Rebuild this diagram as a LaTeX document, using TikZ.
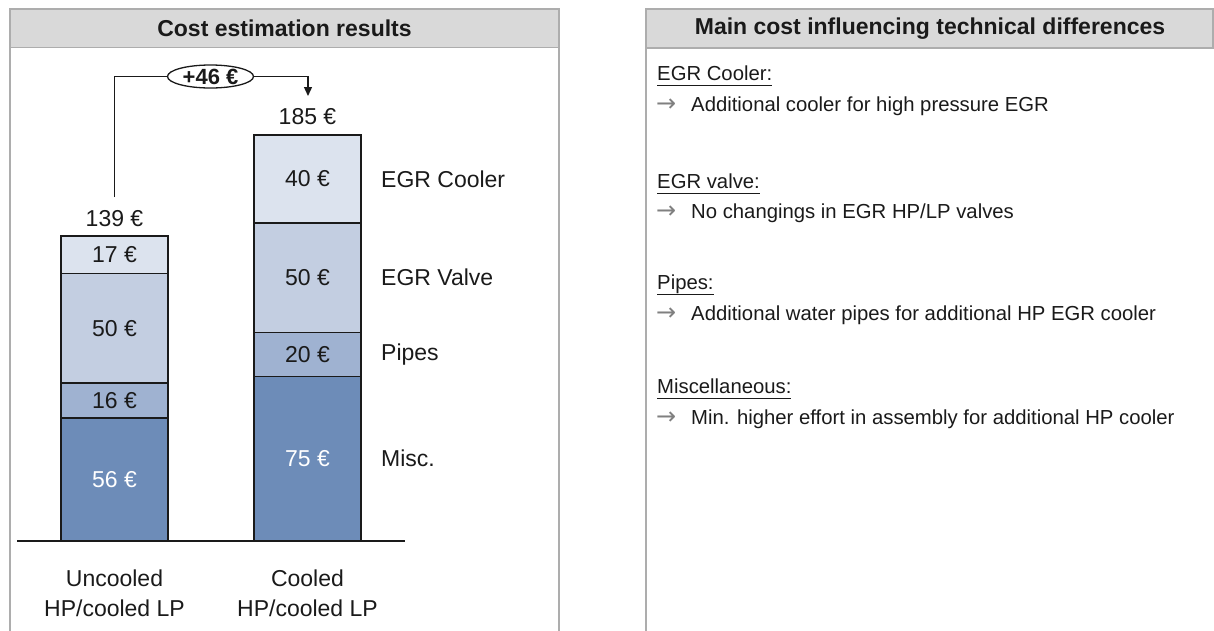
\documentclass[tikz,border=0pt]{standalone}
\usepackage{fontspec}
\setmainfont{Liberation Sans}
\newfontfamily\symfont{DejaVu Sans}
\usetikzlibrary{shapes.geometric,arrows.meta,calc}

\definecolor{hdrfill}{HTML}{D9D9D9}
\definecolor{hdrline}{HTML}{ADADAD}
\definecolor{segA}{HTML}{6D8CB8}
\definecolor{segB}{HTML}{9FB2D1}
\definecolor{segC}{HTML}{C3CEE1}
\definecolor{segD}{HTML}{DCE3EE}
\definecolor{ink}{HTML}{1A1A1A}
\definecolor{bulletgray}{HTML}{808080}

\newcommand\bigtxt{\fontsize{23}{30}\selectfont}
\newcommand\midtxt{\fontsize{20.3}{24}\selectfont}
\newcommand\hdrtxt{\fontsize{23}{28}\selectfont\bfseries}
\newcommand\ulhead[1]{\underline{#1\vphantom{p}}}

\tikzset{
  panelline/.style={draw=hdrline, line width=1.5pt},
  panelhead/.style={panelline, fill=hdrfill},
  headtext/.style={font=\hdrtxt, text=ink, inner sep=0pt},
  seg/.style={draw=ink, line width=1.3pt, minimum width=107pt, inner sep=0pt,
              font=\bigtxt, text=ink},
  valtext/.style={font=\bigtxt, text=ink, inner sep=0pt},
  partlabel/.style={font=\bigtxt, text=ink, anchor=west, inner sep=0pt},
  catlabel/.style={font=\bigtxt, text=ink, align=center, inner sep=0pt},
  delta/.style={ellipse, draw=ink, line width=1.3pt, minimum width=86pt,
                minimum height=23pt, inner sep=0pt, font=\fontsize{22}{24}\selectfont\bfseries, text=ink},
  link/.style={draw=ink, line width=1.3pt},
  notehead/.style={font=\midtxt, text=ink, anchor=base west, inner sep=0pt},
  notearrow/.style={font=\fontsize{24}{26}\symfont, text=bulletgray, anchor=base west, inner sep=0pt},
  notetext/.style={font=\midtxt, text=ink, anchor=base west, inner sep=0pt}
}

\begin{document}
\begin{tikzpicture}[x=1pt, y=-1pt]
  \useasboundingbox (0,0) rectangle (1214,630);

  % ---- left panel: cost estimation results ----
  \draw[panelhead] (10,9) rectangle (559,47.5);
  \draw[panelline] (10,47.5) -- (10,640);
  \draw[panelline] (559,47.5) -- (559,640);
  \node[headtext] (lhead) at (284.5,28.5) {Cost estimation results};

  % ---- right panel: technical differences ----
  \draw[panelhead] (646,9) rectangle (1213,48);
  \draw[panelline] (646,48) -- (646,640);
  \node[headtext] (rhead) at (930,28.5) {Main cost influencing technical differences};

  % stacked bar: uncooled HP / cooled LP (139 EUR)
  \node[seg, fill=segA, minimum height=122.88pt, text=white] (l56) at (114.5,479.56) {56 €};
  \node[seg, fill=segB, minimum height=35.11pt]  (l16) at (114.5,400.57) {16 €};
  \node[seg, fill=segC, minimum height=109.71pt] (l50) at (114.5,328.16) {50 €};
  \node[seg, fill=segD, minimum height=37.30pt]  (l17) at (114.5,254.65) {17 €};

  % stacked bar: cooled HP / cooled LP (185 EUR)
  \node[seg, fill=segA, minimum height=164.57pt, text=white] (r75) at (307.5,458.72) {75 €};
  \node[seg, fill=segB, minimum height=43.88pt]  (r20) at (307.5,354.49) {20 €};
  \node[seg, fill=segC, minimum height=109.71pt] (r50) at (307.5,277.70) {50 €};
  \node[seg, fill=segD, minimum height=87.77pt]  (r40) at (307.5,178.96) {40 €};

  % component names beside the second bar
  \node[partlabel] (pcool) at (381,178.96) {EGR Cooler};
  \node[partlabel] (pvalve) at (381,277.70) {EGR Valve};
  \node[partlabel] (ppipe) at (381,354.49) {Pipes};
  \node[partlabel] (pmisc) at (381,458.72) {Misc.};

  % totals
  \node[valtext] (t139) at (114.5,219) {139 €};
  \node[valtext] (t185) at (307.5,117) {185 €};

  % axis line
  \coordinate (ax0) at (17,541);
  \coordinate (ax1) at (405,541);
  \draw[draw=ink, line width=1.5pt] (ax0) -- (ax1);

  % category names
  \node[catlabel] (cat1) at (114.5,593) {Uncooled\\HP/cooled LP};
  \node[catlabel] (cat2) at (307.5,593) {Cooled\\HP/cooled LP};

  % difference bracket
  \node[delta] (diff) at (210.5,76.5) {+46 €};
  \coordinate (from) at (114.5,197);
  \coordinate (to) at (308,96);
  \draw[link] (from) |- (diff.west);
  \draw[link, -{Triangle[length=9pt,width=8pt]}] (diff.east) -| (to);

  % notes
  \node[notehead] (h1) at (657,80) {\ulhead{EGR Cooler:}};
  \node[notearrow] (a1) at (656,111) {→};
  \node[notetext] (b1) at (691,111) {Additional cooler for high pressure EGR};

  \node[notehead] (h2) at (657,188) {\ulhead{EGR valve:}};
  \node[notearrow] (a2) at (656,218) {→};
  \node[notetext] (b2) at (691,218) {No changings in EGR HP/LP valves};

  \node[notehead] (h3) at (657,289) {\ulhead{Pipes:}};
  \node[notearrow] (a3) at (656,320) {→};
  \node[notetext] (b3) at (691,320) {Additional water pipes for additional HP EGR cooler};

  \node[notehead] (h4) at (657,393) {\ulhead{Miscellaneous:}};
  \node[notearrow] (a4) at (656,424) {→};
  \node[notetext] (b4) at (691,424) {Min. higher effort in assembly for additional HP cooler};
\end{tikzpicture}
\end{document}
